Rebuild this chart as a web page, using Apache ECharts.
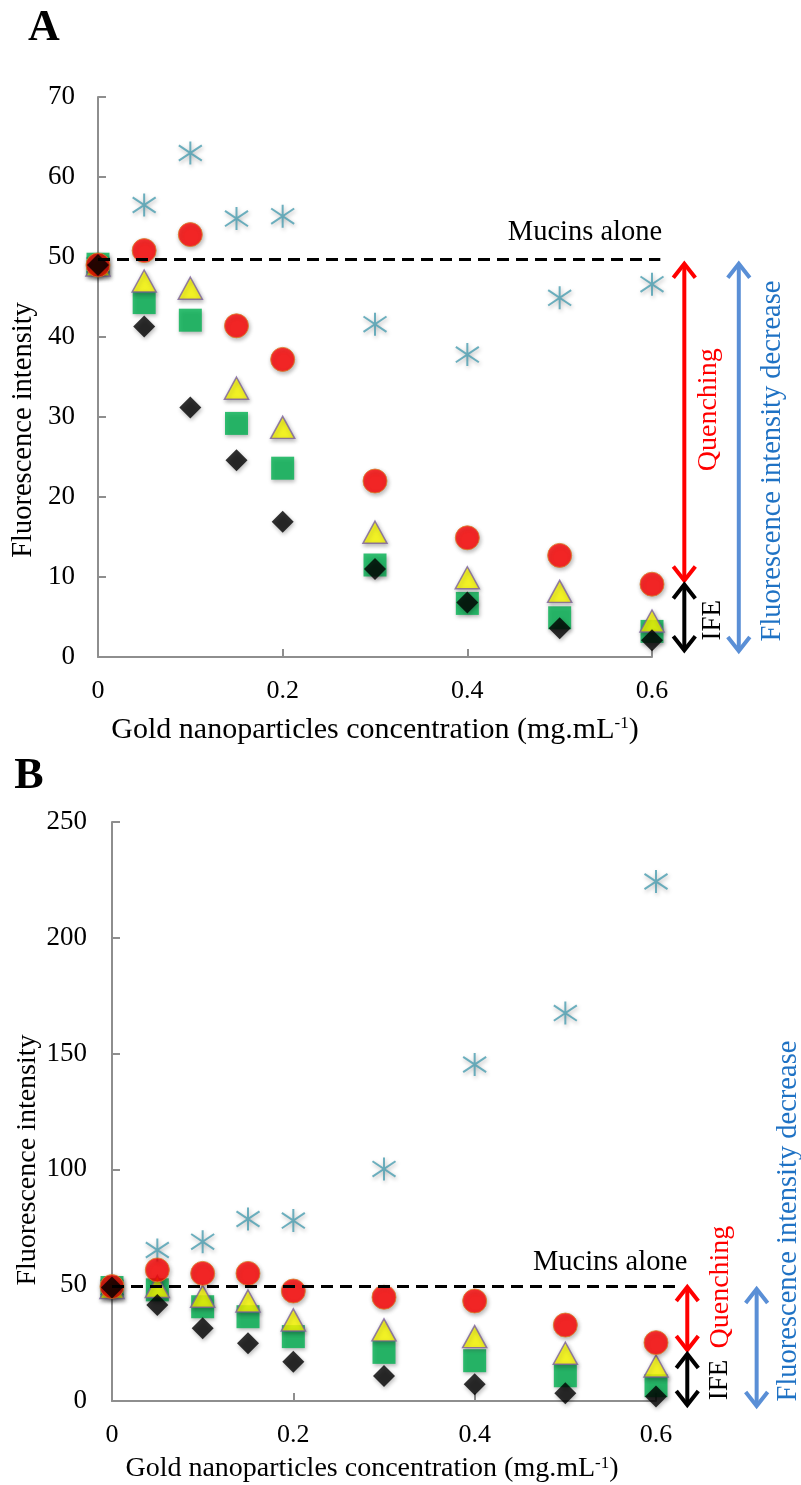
<!DOCTYPE html>
<html>
<head>
<meta charset="utf-8">
<title>Mucins fluorescence vs gold nanoparticles</title>
<script src="https://cdn.jsdelivr.net/npm/echarts@6/dist/echarts.min.js"></script>
<style>
    body { margin: 0; background: #fff; }
    #chart { width: 801px; height: 1485px; }
</style>
</head>
<body>
<div id="chart"></div>
<script>
    // gold nanoparticle concentrations (mg.mL-1)
    var conc = [0, 0.05, 0.1, 0.15, 0.2, 0.3, 0.4, 0.5, 0.6];

    // panel A
    var starA    = [49.0, 56.5, 63.0, 54.8, 55.1, 41.6, 37.8, 44.9, 46.6];
    var squareA  = [49.1, 44.3, 42.1, 29.2, 23.6, 11.5, 6.7, 4.9, 3.2];
    var triA     = [49.0, 47.0, 46.1, 33.6, 28.7, 15.6, 9.9, 8.2, 4.5];
    var circleA  = [49.0, 50.8, 52.8, 41.4, 37.2, 22.0, 14.9, 12.7, 9.1];
    var diamondA = [49.0, 41.3, 31.2, 24.6, 16.9, 11.0, 6.8, 3.6, 2.1];

    // panel B
    var starB    = [49.0, 65.2, 68.8, 78.6, 77.9, 100.2, 145.3, 167.5, 224.3];
    var squareB  = [49.0, 48.0, 40.7, 36.4, 27.8, 21.0, 17.4, 10.9, 6.6];
    var triB     = [49.0, 49.4, 45.2, 43.2, 35.0, 30.7, 27.8, 20.6, 15.1];
    var circleB  = [49.4, 56.6, 55.1, 55.1, 47.5, 44.8, 43.2, 32.8, 25.2];
    var diamondB = [49.0, 41.5, 31.4, 24.9, 17.0, 10.8, 7.2, 3.3, 1.9];

    // "mucins alone" level and the arrow spans (intensity units)
    var mucinsLevel = [49.7, 49.4];
    var quenchA = [49.4, 9.3], ifeA = [9.3, 0.6], decreaseA = [49.4, 0.5];
    var quenchB = [50.1, 21.2], ifeB = [21.2, -2.6], decreaseB = [49.2, -3.0];

    var serif = '"Liberation Serif", "Times New Roman", serif';
    var axisGrey = '#8e8e8e';
    var starPath = 'path://M12,0L12,24M1.6,4L22.4,20M1.6,20L22.4,4';
    var shadow = { shadowBlur: 4, shadowOffsetX: 1, shadowOffsetY: 2, shadowColor: 'rgba(0,0,0,0.35)' };

    function pairs(ys) {
        return conc.map(function (x, i) { return [x, ys[i]]; });
    }

    function style(obj) {
        return Object.assign({}, shadow, obj);
    }

    function panelSeries(gi, star, square, tri, circle, diamond) {
        var base = { type: 'scatter', xAxisIndex: gi, yAxisIndex: gi, silent: true };
        return [
            Object.assign({}, base, { data: pairs(star), symbol: starPath, symbolSize: 23,
                itemStyle: style({ color: 'none', borderColor: '#4a9db0', borderWidth: 2 }) }),
            Object.assign({}, base, { data: pairs(square), symbol: 'rect', symbolSize: 23,
                itemStyle: style({ color: '#00b050' }) }),
            Object.assign({}, base, { data: pairs(tri), symbol: 'triangle', symbolSize: [24, 22],
                itemStyle: style({ color: '#ffff00', borderColor: '#7a5f9c', borderWidth: 1.5 }) }),
            Object.assign({}, base, { data: pairs(circle), symbol: 'circle', symbolSize: 24,
                itemStyle: style({ color: '#ff0000', borderColor: '#d9822b', borderWidth: 1 }) }),
            Object.assign({}, base, { data: pairs(diamond), symbol: 'diamond', symbolSize: 22,
                itemStyle: style({ color: '#000000' }) })
        ];
    }

    function xAxisFor(gi, titleSize, gap, pad) {
        return {
            gridIndex: gi, type: 'value', min: 0, max: 0.6, interval: 0.2,
            axisLine: { lineStyle: { color: axisGrey, width: 2 } },
            axisTick: { show: true, inside: true, length: 8, lineStyle: { color: axisGrey, width: 2 } },
            axisLabel: { margin: 21, fontSize: 26, color: '#000', fontFamily: serif },
            splitLine: { show: false },
            name: '{t|Gold nanoparticles concentration (mg.mL}{s|-1}{t|)}',
            nameLocation: 'middle', nameGap: gap,
            nameTextStyle: {
                padding: pad,
                rich: {
                    t: { fontSize: titleSize, fontFamily: serif, color: '#000' },
                    s: { fontSize: 17, fontFamily: serif, color: '#000', verticalAlign: 'top' }
                }
            }
        };
    }

    function yAxisFor(gi, max, interval, margin) {
        return {
            gridIndex: gi, type: 'value', min: 0, max: max, interval: interval,
            axisLine: { show: true, lineStyle: { color: axisGrey, width: 2 } },
            axisTick: { show: true, inside: true, length: 8, lineStyle: { color: axisGrey, width: 2 } },
            axisLabel: { margin: margin, fontSize: 27, color: '#000', fontFamily: serif },
            splitLine: { show: false }
        };
    }

    var chart = echarts.init(document.getElementById('chart'));

    chart.setOption({
        animation: false,
        backgroundColor: '#fff',
        grid: [
            { left: 98, top: 97, width: 554, height: 560 },
            { left: 112, top: 822, width: 544, height: 579 }
        ],
        xAxis: [xAxisFor(0, 30, 58, 0), xAxisFor(1, 28, 54, [0, 24, 0, 0])],
        yAxis: [yAxisFor(0, 70, 10, 23), yAxisFor(1, 250, 50, 25)],
        series: panelSeries(0, starA, squareA, triA, circleA, diamondA)
            .concat(panelSeries(1, starB, squareB, triB, circleB, diamondB))
    });

    function px(gi, x, y) {
        return chart.convertToPixel({ gridIndex: gi }, [x, y]);
    }

    function doubleArrow(gi, x, span, color) {
        var a = px(gi, x, span[0]), b = px(gi, x, span[1]);
        var w = 11, h = 16;
        var s = { stroke: color, lineWidth: 4, fill: null, lineJoin: 'miter' };
        return [
            { type: 'line', z: 100, shape: { x1: a[0], y1: a[1] + 3, x2: b[0], y2: b[1] - 3 }, style: s },
            { type: 'polyline', z: 100, shape: { points: [[a[0] - w, a[1] + h], [a[0], a[1] + 2], [a[0] + w, a[1] + h]] }, style: s },
            { type: 'polyline', z: 100, shape: { points: [[b[0] - w, b[1] - h], [b[0], b[1] - 2], [b[0] + w, b[1] - h]] }, style: s }
        ];
    }

    function label(pos, text, size, color, rotate, align, weight) {
        return {
            type: 'text', z: 100, x: pos[0], y: pos[1], rotation: rotate ? Math.PI / 2 : 0,
            style: {
                text: text, fill: color,
                font: (weight || 'normal') + ' ' + size + 'px ' + serif,
                align: align || 'center', textAlign: align || 'center',
                verticalAlign: 'middle', textVerticalAlign: 'middle'
            }
        };
    }

    function dashLine(gi, level, xEnd) {
        var a = px(gi, 0, level), b = px(gi, xEnd, level);
        return { type: 'line', z: 100, shape: { x1: a[0], y1: a[1], x2: b[0], y2: b[1] },
            style: { stroke: '#000', lineWidth: 3, lineDash: [12, 7] } };
    }

    var red = '#ff0000', blue = '#5a8fd6', blueText = '#1f72c4';
    var g = [];

    // panel A annotations
    g.push(dashLine(0, mucinsLevel[0], 0.609));
    g.push(label(px(0, 0.611, 53.0), 'Mucins alone', 28.5, '#000', false, 'right'));
    g = g.concat(doubleArrow(0, 0.635, quenchA, red));
    g = g.concat(doubleArrow(0, 0.635, ifeA, '#000'));
    g = g.concat(doubleArrow(0, 0.694, decreaseA, blue));
    g.push(label(px(0, 0.661, 30.9), 'Quenching', 28, red, true));
    g.push(label(px(0, 0.666, 4.6), 'IFE', 27, '#000', true));
    g.push(label(px(0, 0.730, 24.5), 'Fluorescence intensity decrease', 28.5, blueText, true));

    // panel B annotations
    g.push(dashLine(1, mucinsLevel[1], 0.624));
    g.push(label(px(1, 0.6345, 60.0), 'Mucins alone', 28.5, '#000', false, 'right'));
    g = g.concat(doubleArrow(1, 0.6345, quenchB, red));
    g = g.concat(doubleArrow(1, 0.6345, ifeB, '#000'));
    g = g.concat(doubleArrow(1, 0.711, decreaseB, blue));
    g.push(label(px(1, 0.671, 49.2), 'Quenching', 28, red, true));
    g.push(label(px(1, 0.671, 9.1), 'IFE', 27, '#000', true));
    g.push(label(px(1, 0.746, 77.7), 'Fluorescence intensity decrease', 28.5, blueText, true));

    // y titles and panel letters
    g.push(label([24, 430], 'Fluorescence intensity', 28.5, '#000', true));
    g.push(label([28, 1160], 'Fluorescence intensity', 28, '#000', true));
    g.push(label([44, 29], 'A', 44, '#000', false, 'center', 'bold'));
    g.push(label([29, 777], 'B', 44, '#000', false, 'center', 'bold'));

    chart.setOption({ graphic: { elements: g } });
</script>
</body>
</html>
